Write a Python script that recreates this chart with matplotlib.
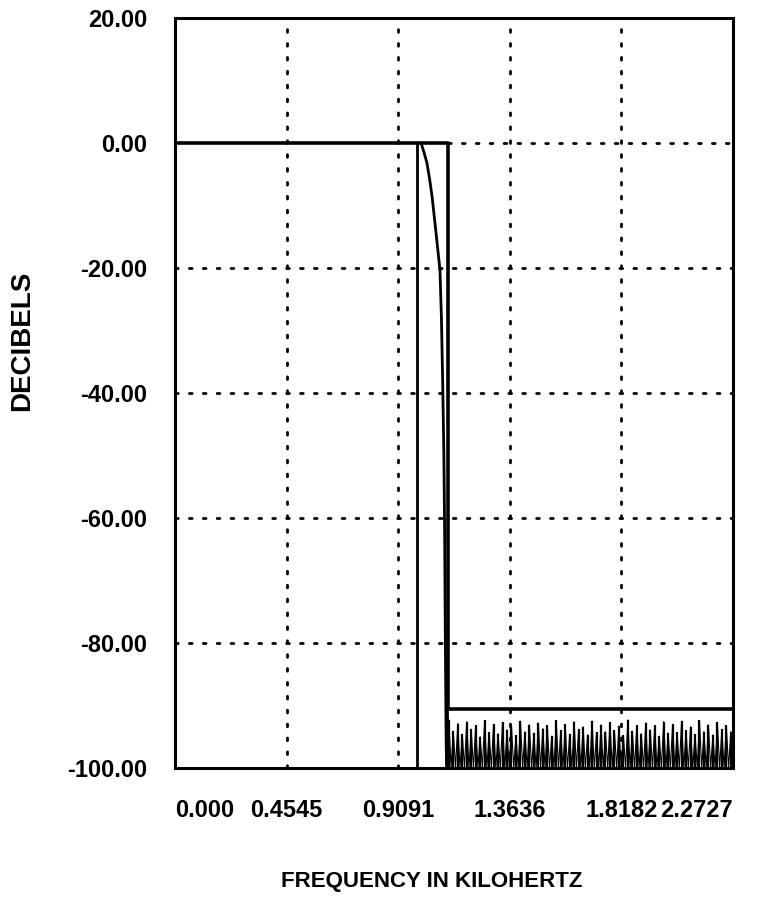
import numpy as np
import matplotlib
matplotlib.use("Agg")
import matplotlib.pyplot as plt

plt.rcParams['font.family'] = ['Liberation Sans', 'DejaVu Sans']
plt.rcParams['font.weight'] = 'bold'

# ---- data ----
x_ticks = [0.0, 0.4545, 0.9091, 1.3636, 1.8182, 2.2727]
x_tick_labels = ["0.000", "0.4545", "0.9091", "1.3636", "1.8182", "2.2727"]
y_ticks = [20, 0, -20, -40, -60, -80, -100]
y_tick_labels = ["20.00", "0.00", "-20.00", "-40.00", "-60.00", "-80.00", "-100.00"]

# specification mask (passband 0 dB, stopband edge, stopband level)
mask_freq = [0.0, 1.112, 1.112, 2.2727]
mask_db = [0.0, 0.0, -90.5, -90.5]

# lower passband edge marker
edge_freq = [0.9857, 0.9857]
edge_db = [0.0, -100.0]

# transition-band response
trans_freq = [1.002, 1.014, 1.026, 1.037, 1.047, 1.062, 1.079, 1.085, 1.090,
              1.095, 1.098, 1.100, 1.102, 1.104, 1.106]
trans_db = [0.0, -1.5, -3.2, -5.8, -8.6, -14.0, -20.3, -28.0, -38.0,
            -50.0, -62.0, -74.0, -85.0, -95.0, -100.0]

# stopband sidelobe peaks (dB), from 1.106 kHz to 2.2727 kHz
stop_peaks = [-92.3, -94.1, -92.9, -94.6, -92.6, -93.8, -93.2, -95.0,
              -92.4, -94.3, -93.0, -94.5, -92.7, -93.9, -93.3, -94.8,
              -92.5, -94.2, -93.1, -94.4, -92.8, -93.7, -93.2, -94.9,
              -92.4, -94.0, -93.0, -94.6, -92.6, -93.8, -93.4, -94.7,
              -92.5, -94.3, -93.1, -94.2, -92.7, -94.0, -93.3, -94.8,
              -92.3, -94.1, -93.2, -94.5, -92.8, -93.9, -93.2, -94.9,
              -92.6, -94.4, -93.0, -94.3, -92.5, -94.0, -93.4, -94.6,
              -92.4, -94.2, -93.1, -94.7, -92.7, -93.8, -93.2, -94.2]
stop_start, stop_end = 1.106, 2.2727
stop_null = -100.0

# ---- figure ----
fig = plt.figure(figsize=(7.62, 9.15), dpi=100)
ax = fig.add_axes([0.2297, 0.1607, 0.7323, 0.8196])

ax.set_xlim(0, 2.2727)
ax.set_ylim(-100, 20)

# dotted grid
dot = dict(color='black', lw=2.0, linestyle=(0, (1, 4)), dash_capstyle='round', zorder=1)
for yv in [-20, -40, -60, -80]:
    ax.axhline(yv, **dot)
ax.plot([1.112, 2.2727], [0, 0], **dot)
for xv in x_ticks[1:-1]:
    ax.axvline(xv, **dot)

# curves
ax.plot(mask_freq, mask_db, color='black', lw=2.6, zorder=3, solid_capstyle='butt')
ax.plot(edge_freq, edge_db, color='black', lw=2.0, zorder=3)
ax.plot(trans_freq, trans_db, color='black', lw=2.0, zorder=3)

n = len(stop_peaks)
lobe_edges = np.linspace(stop_start, stop_end, n + 1)
centers = (lobe_edges[:-1] + lobe_edges[1:]) / 2
sx, sy = [], []
for i, pk in enumerate(stop_peaks):
    sx += [lobe_edges[i], centers[i]]
    sy += [stop_null, pk]
sx.append(lobe_edges[-1]); sy.append(stop_null)
ax.plot(sx, sy, color='black', lw=0.8, zorder=2)
ax.vlines(centers, stop_null, stop_peaks, color='black', lw=1.6, zorder=2)
ax.plot([stop_start, stop_start], [-90.5, -100], color='black', lw=2.0, zorder=3)

# axes styling
for s in ax.spines.values():
    s.set_linewidth(2.2)
ax.set_xticks(x_ticks)
ax.set_xticklabels(x_tick_labels)
ax.set_yticks(y_ticks)
ax.set_yticklabels(y_tick_labels)
ax.tick_params(axis='both', length=0, labelsize=17)
ax.tick_params(axis='x', pad=22)
ax.tick_params(axis='y', pad=20)
labs = ax.get_xticklabels()
labs[0].set_ha('left')
labs[-1].set_ha('right')

fig.text(22 / 762, 1 - 341 / 915, "DECIBELS", rotation=90, ha='center', va='center',
         fontsize=20, fontweight='bold')
fig.text(432 / 762, 1 - 882 / 915, "FREQUENCY IN KILOHERTZ", ha='center', va='center',
         fontsize=16, fontweight='bold')

fig.savefig("out.png", dpi=100)
